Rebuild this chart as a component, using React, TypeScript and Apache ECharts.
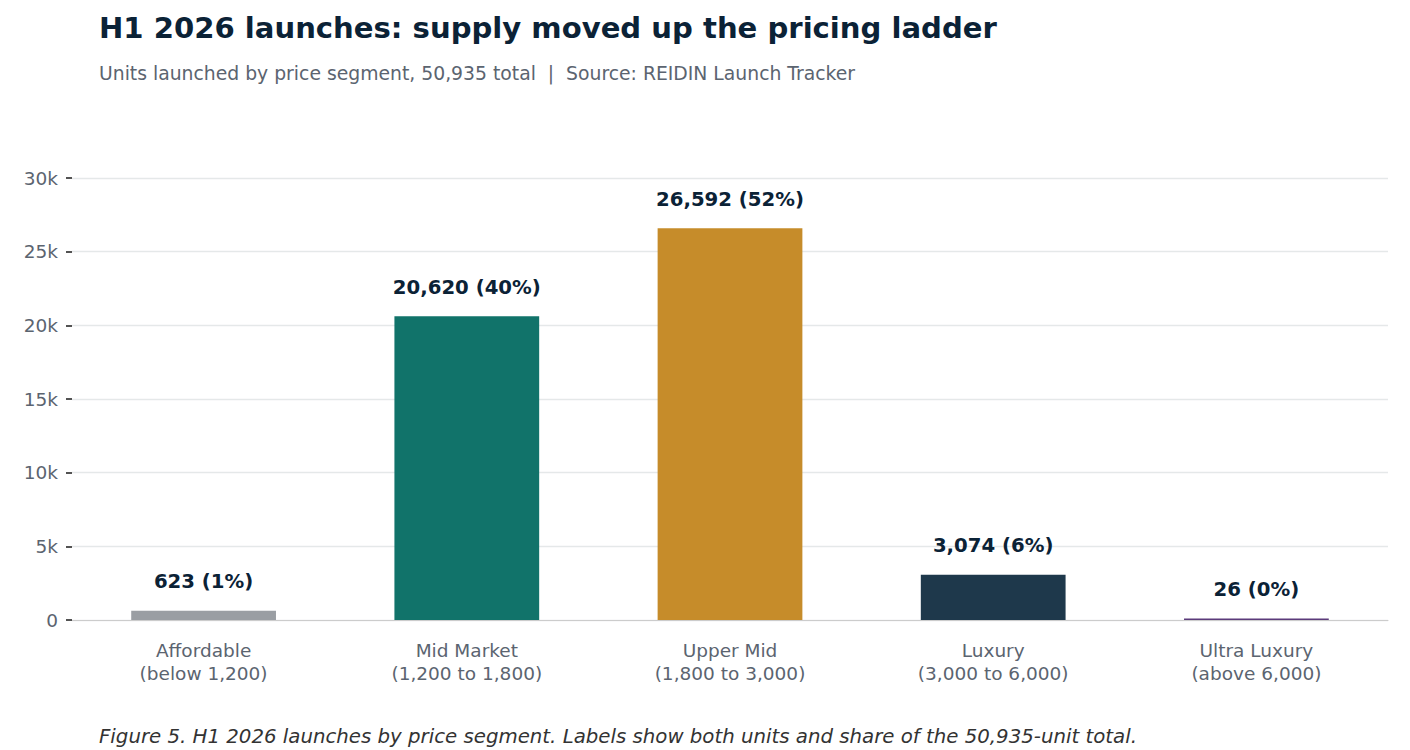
import React, { useEffect, useRef } from "react";
import * as echarts from "echarts";

const categories = [
  "Affordable\n(below 1,200)",
  "Mid Market\n(1,200 to 1,800)",
  "Upper Mid\n(1,800 to 3,000)",
  "Luxury\n(3,000 to 6,000)",
  "Ultra Luxury\n(above 6,000)",
];
const units = [623, 20620, 26592, 3074, 26];
const shares = ["1%", "40%", "52%", "6%", "0%"];
const colors = ["#9a9ea3", "#11736a", "#c68c2a", "#1e384b", "#5b3a7a"];
const yTicks = [0, 5000, 10000, 15000, 20000, 25000, 30000];

const FONT = "DejaVu Sans";

export default function App() {
  const ref = useRef<HTMLDivElement>(null);
  useEffect(() => {
    document.body.style.margin = "0";
    const chart = echarts.init(ref.current!, null, { renderer: "svg" });
    chart.setOption({
      animation: false,
      textStyle: { fontFamily: FONT },
      title: [
        {
          text: "H1 2026 launches: supply moved up the pricing ladder",
          left: 94,
          top: 8,
          textStyle: { fontFamily: FONT, fontSize: 29.1, fontWeight: "bold", color: "#0b2236" },
        },
        {
          text: "Units launched by price segment, 50,935 total  |  Source: REIDIN Launch Tracker",
          left: 94,
          top: 59,
          textStyle: { fontFamily: FONT, fontSize: 18.8, fontWeight: "normal", color: "#5b6470" },
        },
        {
          text: "Figure 5. H1 2026 launches by price segment. Labels show both units and share of the 50,935-unit total.",
          left: 94,
          top: 721,
          textStyle: { fontFamily: FONT, fontSize: 19.75, fontWeight: "normal", fontStyle: "italic", color: "#333333" },
        },
      ],
      grid: { left: 72, right: 22, top: 178, bottom: 130, containLabel: false },
      xAxis: {
        type: "category",
        data: categories,
        axisLine: { show: true, lineStyle: { color: "#cccccc", width: 1 } },
        axisTick: { show: false },
        axisLabel: {
          fontFamily: FONT,
          fontSize: 18.5,
          color: "#5b6470",
          lineHeight: 23,
          margin: 19,
          interval: 0,
        },
      },
      yAxis: {
        type: "value",
        min: 0,
        max: 30000,
        interval: 5000,
        axisLine: { show: false },
        axisTick: { show: true, length: 6, lineStyle: { color: "#1a1a1a", width: 1.5 } },
        splitLine: { show: true, lineStyle: { color: "#e5e8e9", width: 1.3 } },
        axisLabel: {
          fontFamily: FONT,
          fontSize: 18.5,
          color: "#5b6470",
          margin: 14,
          formatter: (v: number) => (yTicks.includes(v) ? (v === 0 ? "0" : v / 1000 + "k") : ""),
        },
      },
      series: [
        {
          type: "bar",
          barWidth: "55%",
          barMinHeight: 1.5,
          data: units.map((v, i) => ({ value: v, itemStyle: { color: colors[i] } })),
          label: {
            show: true,
            position: "top",
            distance: 19,
            fontFamily: FONT,
            fontSize: 19.7,
            fontWeight: "bold",
            color: "#0b2236",
            formatter: (p: any) => `${units[p.dataIndex].toLocaleString("en-US")} (${shares[p.dataIndex]})`,
          },
        },
      ],
    });
    return () => chart.dispose();
  }, []);
  return <div ref={ref} style={{ width: 1410, height: 750 }} />;
}
